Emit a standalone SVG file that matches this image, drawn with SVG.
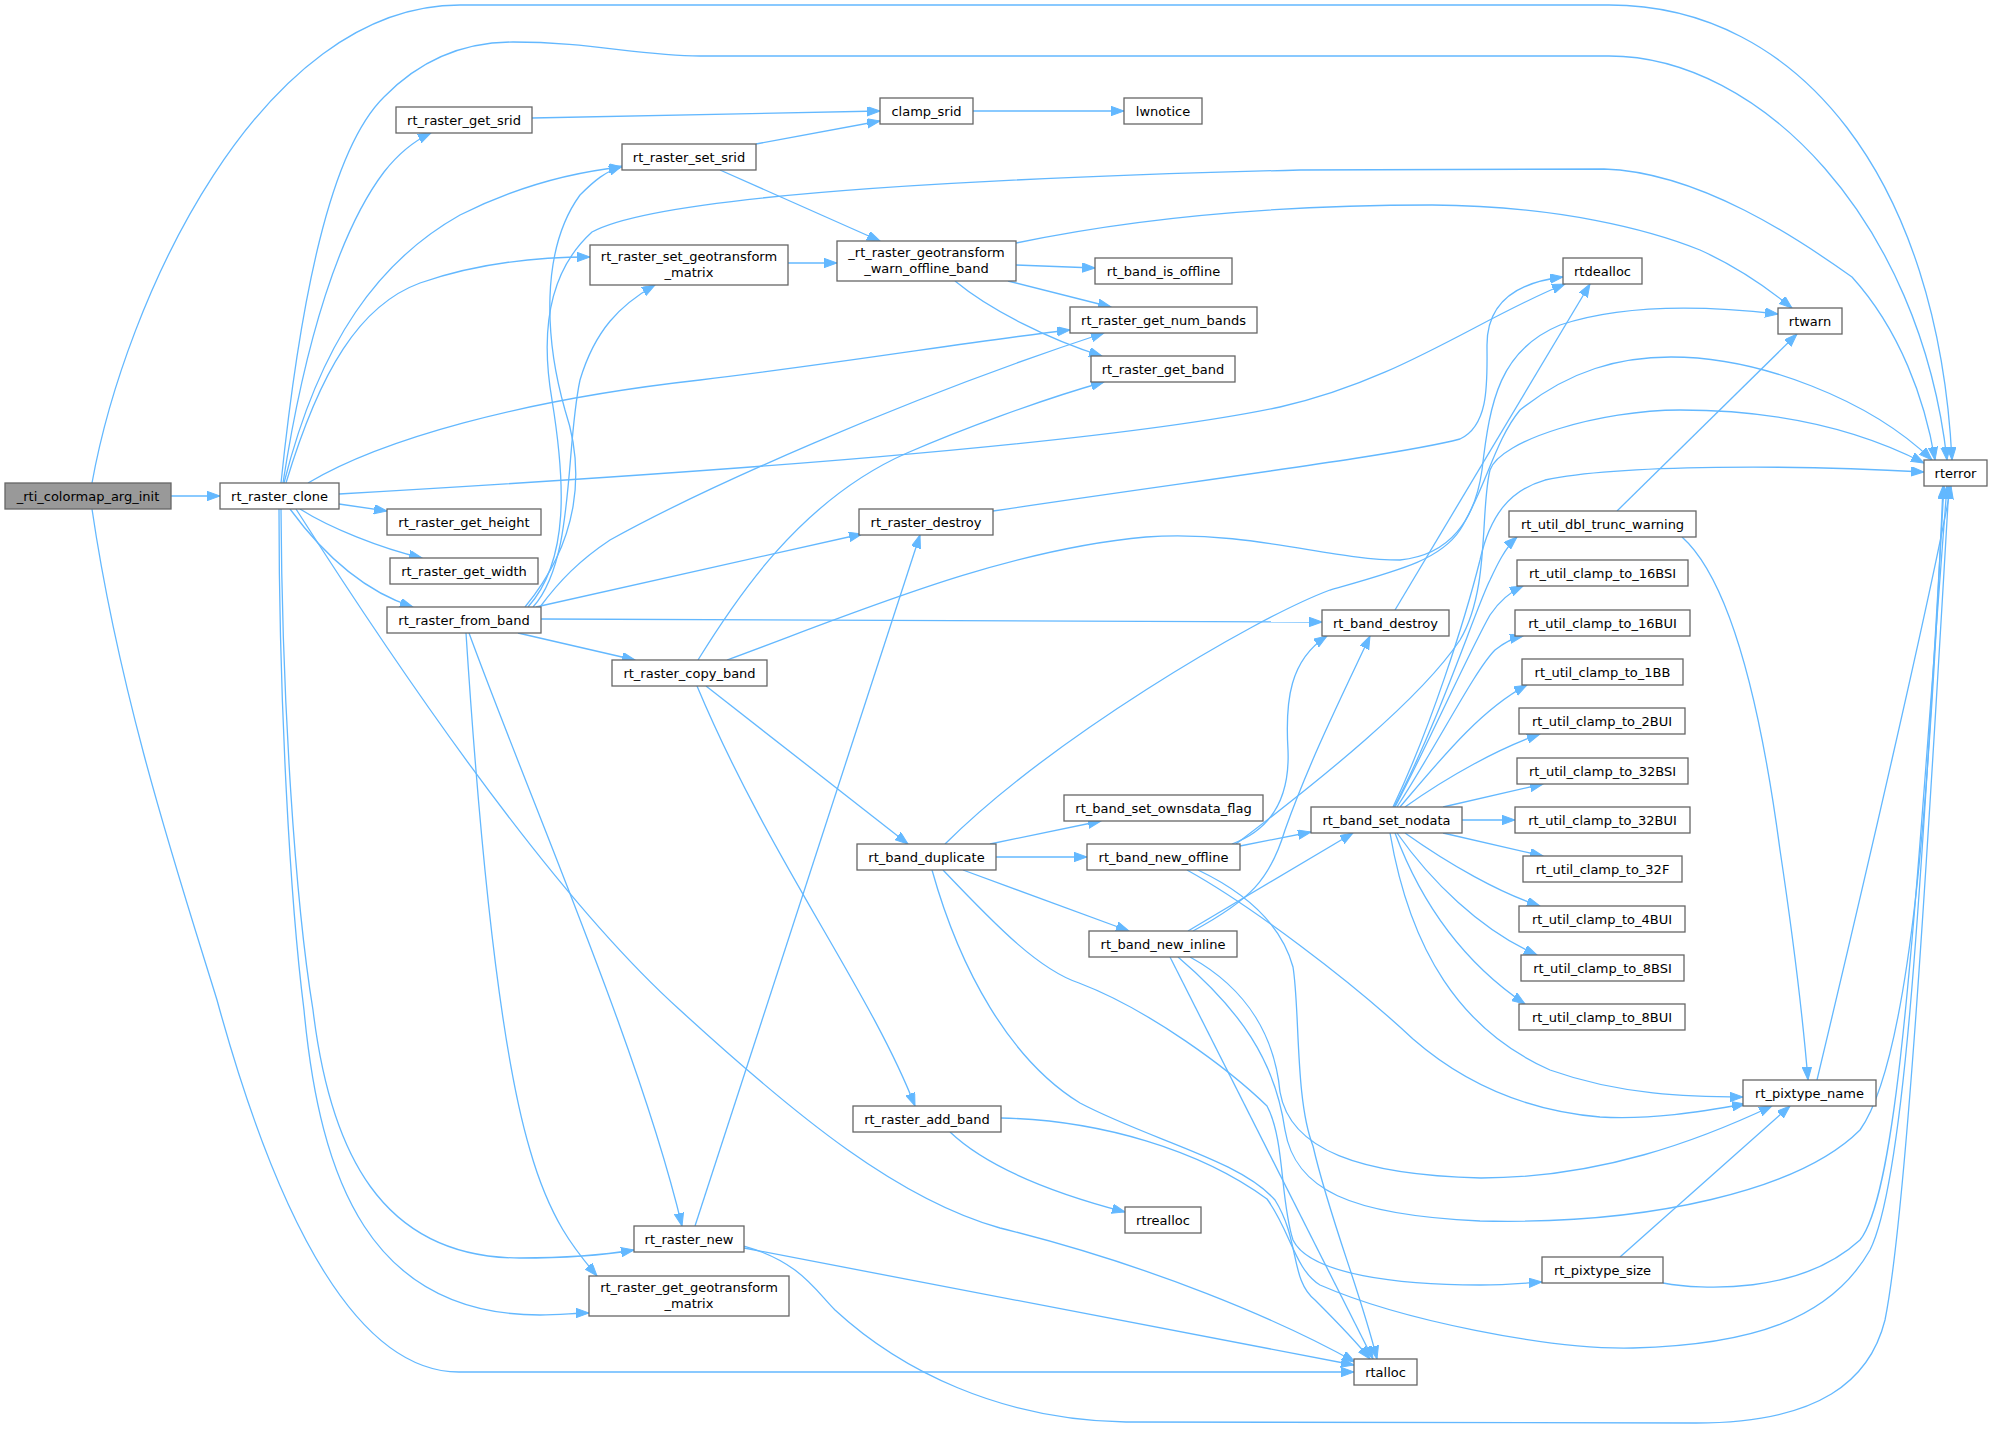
<svg xmlns="http://www.w3.org/2000/svg" width="1992" height="1430" viewBox="0 0 1992 1430">
<defs>
<marker id="ah" markerUnits="userSpaceOnUse" markerWidth="14" markerHeight="10" refX="13" refY="4.7" orient="auto">
<path d="M0,0 L13,4.7 L0,9.4 z" fill="#63b8ff" stroke="#63b8ff" stroke-width="1"/>
</marker>
</defs>
<style>
.n rect{fill:#fff;stroke:#666;stroke-width:1.3}
.n.root rect{fill:#999}
.n text{font-family:"DejaVu Sans",sans-serif;font-size:13px;text-anchor:middle;fill:#000}
#edges path{fill:none;stroke:#63b8ff;stroke-width:1.3;marker-end:url(#ah)}
</style>
<rect width="1992" height="1430" fill="#fff"/>
<g id="edges">
<path d="M171,496 L220,496"/>
<path d="M92,483 C125,300 260,5 460,5 L1609,5 C1800,5 1938,180 1952,460"/>
<path d="M92,509 C120,700 180,880 217,1000 C280,1230 360,1372 459,1372 L1354,1372"/>
<path d="M281,483 C300,300 330,150 384,97 C425,55 470,42 513,42 C590,42 640,56 700,56 L1609,56 C1760,56 1920,220 1947,460"/>
<path d="M283,483 C305,340 340,230 384,172 C398,154 412,142 431,133"/>
<path d="M284,483 C320,340 380,260 460,215 C520,185 575,172 622,167"/>
<path d="M286,483 C320,370 360,305 420,283 C480,262 540,257 590,257"/>
<path d="M308,483 C380,440 520,400 700,380 C850,362 980,340 1070,330"/>
<path d="M339,494 C700,473 1100,445 1280,407 C1400,380 1480,318 1565,284"/>
<path d="M339,504 L387,511"/>
<path d="M300,509 C330,528 380,548 422,558"/>
<path d="M290,509 C320,550 360,590 413,607"/>
<path d="M281,509 C282,700 295,900 313,1010 C330,1150 380,1258 520,1258 C570,1258 610,1254 634,1250"/>
<path d="M279,509 C279,700 290,900 304,1010 C320,1180 370,1315 540,1315 C560,1315 575,1313 589,1313"/>
<path d="M296,509 C450,750 580,920 680,1010 C800,1120 900,1200 1000,1228 C1150,1265 1280,1320 1355,1362"/>
<path d="M532,118 L880,111"/>
<path d="M756,144 L880,121"/>
<path d="M720,170 L880,241"/>
<path d="M788,263 L837,263"/>
<path d="M973,111 L1124,111"/>
<path d="M1016,265 L1095,268"/>
<path d="M1008,281 L1111,307"/>
<path d="M955,281 C990,310 1050,340 1102,356"/>
<path d="M1016,243 C1150,215 1300,205 1432,205 C1560,206 1650,230 1700,250 C1740,268 1770,290 1792,308"/>
<path d="M525,607 C580,540 585,470 565,410 C545,340 540,250 580,195 C595,180 605,172 622,166"/>
<path d="M533,607 C575,560 565,450 580,380 C595,330 620,305 655,285"/>
<path d="M528,607 C570,560 565,480 552,400 C540,330 550,270 592,232 C650,200 900,180 1300,170 L1604,169 C1700,172 1800,240 1852,277 C1900,330 1925,400 1935,460"/>
<path d="M540,607 C560,580 580,560 610,540 C700,490 900,400 1104,333"/>
<path d="M536,607 L862,534"/>
<path d="M541,619 L1322,622"/>
<path d="M518,633 L635,660"/>
<path d="M469,633 C530,800 640,1050 682,1226"/>
<path d="M466,633 C480,850 500,1050 530,1150 C550,1220 575,1250 597,1276"/>
<path d="M698,660 C735,600 800,500 907,453 C960,430 1040,400 1104,382"/>
<path d="M727,660 C850,615 1000,550 1146,537 C1250,530 1330,560 1400,560 C1450,555 1475,520 1482,470 C1490,400 1500,350 1560,325 C1620,305 1700,305 1778,314"/>
<path d="M706,686 L908,844"/>
<path d="M697,686 C770,860 870,990 915,1106"/>
<path d="M993,511 C1200,480 1400,455 1460,439 C1490,425 1487,380 1487,345 C1487,300 1520,282 1563,277"/>
<path d="M1395,610 L1590,284"/>
<path d="M990,844 L1101,821"/>
<path d="M996,857 L1087,857"/>
<path d="M963,870 L1129,931"/>
<path d="M932,870 C960,970 1010,1060 1080,1103 C1150,1140 1240,1160 1275,1200 C1300,1240 1290,1280 1315,1300 C1335,1320 1355,1340 1370,1359"/>
<path d="M945,844 C1050,740 1250,620 1330,590 C1400,570 1440,560 1460,530 C1485,490 1495,440 1520,410 C1570,370 1620,357 1671,357 C1760,357 1870,400 1932,460"/>
<path d="M943,870 C1000,930 1040,970 1079,983 C1150,1010 1230,1070 1267,1106 C1285,1140 1280,1200 1293,1240 C1310,1275 1400,1285 1480,1285 C1510,1285 1525,1283 1542,1282"/>
<path d="M1240,846 L1311,832"/>
<path d="M1232,844 C1270,830 1290,800 1288,750 C1285,700 1290,660 1327,636"/>
<path d="M1236,844 C1320,780 1420,700 1460,640 C1490,590 1480,510 1490,470 C1500,440 1600,410 1680,410 C1780,410 1860,430 1924,463"/>
<path d="M1198,870 C1240,890 1280,920 1293,967 C1300,1010 1295,1100 1313,1146 C1330,1220 1360,1290 1377,1359"/>
<path d="M1187,870 C1250,905 1350,980 1413,1039 C1460,1080 1520,1110 1600,1117 C1650,1120 1700,1112 1745,1104"/>
<path d="M1188,931 L1353,833"/>
<path d="M1193,931 C1250,900 1270,880 1285,830 C1310,760 1340,700 1370,636"/>
<path d="M1170,957 L1373,1359"/>
<path d="M1178,957 C1240,1010 1275,1060 1285,1130 C1295,1190 1350,1215 1480,1221 C1650,1225 1800,1190 1860,1130 C1910,1060 1930,800 1943,486"/>
<path d="M1190,957 C1250,990 1275,1040 1280,1092 C1290,1150 1360,1175 1481,1178 C1600,1178 1700,1140 1772,1106"/>
<path d="M1395,807 C1430,740 1470,650 1490,615 C1500,600 1510,592 1523,586"/>
<path d="M1397,807 C1440,740 1475,670 1495,650 C1505,642 1513,638 1523,636"/>
<path d="M1400,807 C1440,760 1480,710 1527,685"/>
<path d="M1405,807 C1450,775 1500,748 1540,734"/>
<path d="M1443,807 L1543,784"/>
<path d="M1462,820 L1515,820"/>
<path d="M1443,833 L1543,856"/>
<path d="M1405,833 C1450,865 1500,893 1540,906"/>
<path d="M1397,833 C1430,880 1480,930 1537,955"/>
<path d="M1395,833 C1420,900 1460,960 1525,1004"/>
<path d="M1390,833 C1410,950 1460,1030 1550,1070 C1620,1095 1690,1097 1743,1097"/>
<path d="M1394,807 C1440,720 1475,610 1490,580 C1497,565 1505,548 1517,537"/>
<path d="M1393,807 C1430,730 1465,620 1480,560 C1490,515 1510,490 1545,480 C1620,464 1800,465 1924,472"/>
<path d="M1617,511 L1797,334"/>
<path d="M1682,537 C1730,580 1760,700 1780,850 C1795,950 1803,1020 1808,1080"/>
<path d="M1817,1080 C1860,900 1930,600 1951,486"/>
<path d="M1620,1257 L1790,1106"/>
<path d="M1663,1283 C1700,1290 1800,1295 1860,1240 C1900,1190 1915,900 1947,486"/>
<path d="M695,1226 L920,535"/>
<path d="M744,1248 L1354,1365"/>
<path d="M744,1246 C800,1262 815,1290 835,1310 C900,1370 1000,1420 1126,1422 L1696,1423 C1820,1423 1870,1380 1885,1320 C1905,1220 1925,900 1949,486"/>
<path d="M950,1132 C990,1170 1060,1195 1125,1212"/>
<path d="M1001,1118 C1100,1120 1200,1150 1267,1199 C1290,1230 1295,1270 1320,1285 C1400,1320 1550,1350 1633,1348 C1750,1345 1830,1320 1870,1250 C1905,1180 1920,900 1944,486"/>
</g>
<g id="n0" class="n root"><rect x="5" y="483" width="166" height="26"/><text x="88" y="500.5">_rti_colormap_arg_init</text></g>
<g id="n1" class="n"><rect x="220" y="483" width="119" height="26"/><text x="279.5" y="500.5">rt_raster_clone</text></g>
<g id="n2" class="n"><rect x="396" y="107" width="136" height="26"/><text x="464" y="124.5">rt_raster_get_srid</text></g>
<g id="n3" class="n"><rect x="622" y="144" width="134" height="26"/><text x="689" y="161.5">rt_raster_set_srid</text></g>
<g id="n4" class="n"><rect x="590" y="245" width="198" height="40"/><text x="689" y="261">rt_raster_set_geotransform</text><text x="689" y="276.5">_matrix</text></g>
<g id="n5" class="n"><rect x="880" y="98" width="93" height="26"/><text x="926.5" y="115.5">clamp_srid</text></g>
<g id="n6" class="n"><rect x="1124" y="98" width="78" height="26"/><text x="1163" y="115.5">lwnotice</text></g>
<g id="n7" class="n"><rect x="837" y="241" width="179" height="40"/><text x="926.5" y="257">_rt_raster_geotransform</text><text x="926.5" y="272.5">_warn_offline_band</text></g>
<g id="n8" class="n"><rect x="1095" y="258" width="137" height="26"/><text x="1163.5" y="275.5">rt_band_is_offline</text></g>
<g id="n9" class="n"><rect x="1070" y="307" width="187" height="26"/><text x="1163.5" y="324.5">rt_raster_get_num_bands</text></g>
<g id="n10" class="n"><rect x="1091" y="356" width="144" height="26"/><text x="1163" y="373.5">rt_raster_get_band</text></g>
<g id="n11" class="n"><rect x="1563" y="258" width="79" height="26"/><text x="1602.5" y="275.5">rtdealloc</text></g>
<g id="n12" class="n"><rect x="1778" y="308" width="64" height="26"/><text x="1810" y="325.5">rtwarn</text></g>
<g id="n13" class="n"><rect x="1924" y="460" width="63" height="26"/><text x="1955.5" y="477.5">rterror</text></g>
<g id="n14" class="n"><rect x="387" y="509" width="154" height="26"/><text x="464" y="526.5">rt_raster_get_height</text></g>
<g id="n15" class="n"><rect x="390" y="558" width="148" height="26"/><text x="464" y="575.5">rt_raster_get_width</text></g>
<g id="n16" class="n"><rect x="387" y="607" width="154" height="26"/><text x="464" y="624.5">rt_raster_from_band</text></g>
<g id="n17" class="n"><rect x="859" y="509" width="134" height="26"/><text x="926" y="526.5">rt_raster_destroy</text></g>
<g id="n18" class="n"><rect x="612" y="660" width="155" height="26"/><text x="689.5" y="677.5">rt_raster_copy_band</text></g>
<g id="n19" class="n"><rect x="1509" y="511" width="187" height="26"/><text x="1602.5" y="528.5">rt_util_dbl_trunc_warning</text></g>
<g id="n20" class="n"><rect x="1517" y="560" width="171" height="26"/><text x="1602.5" y="577.5">rt_util_clamp_to_16BSI</text></g>
<g id="n21" class="n"><rect x="1515" y="610" width="175" height="26"/><text x="1602.5" y="627.5">rt_util_clamp_to_16BUI</text></g>
<g id="n22" class="n"><rect x="1522" y="659" width="161" height="26"/><text x="1602.5" y="676.5">rt_util_clamp_to_1BB</text></g>
<g id="n23" class="n"><rect x="1519" y="708" width="166" height="26"/><text x="1602" y="725.5">rt_util_clamp_to_2BUI</text></g>
<g id="n24" class="n"><rect x="1517" y="758" width="171" height="26"/><text x="1602.5" y="775.5">rt_util_clamp_to_32BSI</text></g>
<g id="n25" class="n"><rect x="1515" y="807" width="175" height="26"/><text x="1602.5" y="824.5">rt_util_clamp_to_32BUI</text></g>
<g id="n26" class="n"><rect x="1523" y="856" width="159" height="26"/><text x="1602.5" y="873.5">rt_util_clamp_to_32F</text></g>
<g id="n27" class="n"><rect x="1519" y="906" width="166" height="26"/><text x="1602" y="923.5">rt_util_clamp_to_4BUI</text></g>
<g id="n28" class="n"><rect x="1521" y="955" width="163" height="26"/><text x="1602.5" y="972.5">rt_util_clamp_to_8BSI</text></g>
<g id="n29" class="n"><rect x="1519" y="1004" width="166" height="26"/><text x="1602" y="1021.5">rt_util_clamp_to_8BUI</text></g>
<g id="n30" class="n"><rect x="1322" y="610" width="127" height="26"/><text x="1385.5" y="627.5">rt_band_destroy</text></g>
<g id="n31" class="n"><rect x="1311" y="807" width="151" height="26"/><text x="1386.5" y="824.5">rt_band_set_nodata</text></g>
<g id="n32" class="n"><rect x="1064" y="795" width="199" height="26"/><text x="1163.5" y="812.5">rt_band_set_ownsdata_flag</text></g>
<g id="n33" class="n"><rect x="857" y="844" width="139" height="26"/><text x="926.5" y="861.5">rt_band_duplicate</text></g>
<g id="n34" class="n"><rect x="1087" y="844" width="153" height="26"/><text x="1163.5" y="861.5">rt_band_new_offline</text></g>
<g id="n35" class="n"><rect x="1089" y="931" width="148" height="26"/><text x="1163" y="948.5">rt_band_new_inline</text></g>
<g id="n36" class="n"><rect x="853" y="1106" width="148" height="26"/><text x="927" y="1123.5">rt_raster_add_band</text></g>
<g id="n37" class="n"><rect x="1125" y="1207" width="76" height="26"/><text x="1163" y="1224.5">rtrealloc</text></g>
<g id="n38" class="n"><rect x="634" y="1226" width="110" height="26"/><text x="689" y="1243.5">rt_raster_new</text></g>
<g id="n39" class="n"><rect x="589" y="1276" width="200" height="40"/><text x="689" y="1292">rt_raster_get_geotransform</text><text x="689" y="1307.5">_matrix</text></g>
<g id="n40" class="n"><rect x="1743" y="1080" width="133" height="26"/><text x="1809.5" y="1097.5">rt_pixtype_name</text></g>
<g id="n41" class="n"><rect x="1542" y="1257" width="121" height="26"/><text x="1602.5" y="1274.5">rt_pixtype_size</text></g>
<g id="n42" class="n"><rect x="1354" y="1359" width="63" height="26"/><text x="1385.5" y="1376.5">rtalloc</text></g>
</svg>
